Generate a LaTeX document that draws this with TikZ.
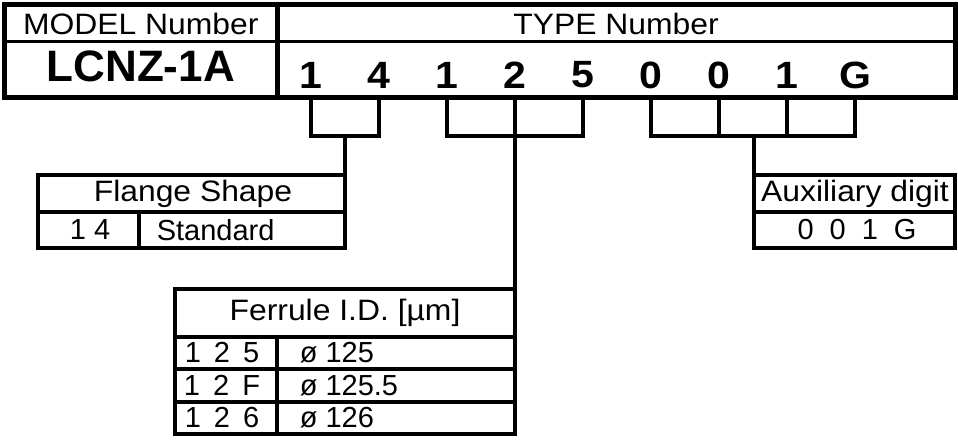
\documentclass[tikz,border=0pt]{standalone}
\usepackage{fontspec}
\setmainfont{Liberation Sans}
\newfontfamily\widefont[FakeStretch=1.08]{Liberation Sans}
\newcommand{\gp}{\hspace{0.45em}}
\begin{document}
\begin{tikzpicture}[x=1pt, y=-1pt, line width=3.5pt,
    lbl/.style={font=\widefont\fontsize{29.5}{29.5}\selectfont, inner sep=0pt},
    cell/.style={font=\fontsize{29}{29}\selectfont, inner sep=0pt},
    big/.style={font=\fontsize{44}{44}\selectfont\bfseries, inner sep=0pt},
    dig/.style={font=\widefont\fontsize{38}{38}\selectfont\bfseries, inner sep=0pt}]
    \useasboundingbox (0,0) rectangle (958,441);
    % header
    \draw[line width=5pt] (4.5,4.5) rectangle (955,97.5);
    \draw[line width=3pt] (4.5,42) -- (955,42);
    \draw[line width=5pt] (277,4.5) -- (277,100);
    \node[lbl] (model) at (140.75,23.5) {MODEL Number};
    \node[lbl] (type) at (616,23.5) {TYPE Number};
    \node[big] (lcnz) at (140.75,66) {LCNZ-1A};
    \foreach \d [count=\i from 0] in {1,4,1,2,5,0,0,1,G}
        \node[dig] (d\i) at (311+68*\i,75) {\d};
    \coordinate (top) at (0,97.5);
    \coordinate (bot) at (0,136);
    % brackets
    \draw (d0|-top) -- (d0|-bot) -- (d1|-bot) -- (d1|-top);
    \draw (d2|-top) -- (d2|-bot) -- (d4|-bot) -- (d4|-top);
    \draw (d3|-top) -- (d3|-bot);
    \draw (d5|-top) -- (d5|-bot) -- (d8|-bot) -- (d8|-top);
    \foreach \i in {6,7}
        \draw (d\i|-top) -- (d\i|-bot);
    % tables
    \coordinate (flange) at (345,175);
    \coordinate (ferrule) at (515,289);
    \coordinate (aux) at (754,175);
    \draw (flange|-bot) -- (flange);
    \draw (d3|-bot) -- (ferrule);
    \draw (aux|-bot) -- (aux);
    \draw (38,175) rectangle (flange|-0,248);           % flange shape
    \draw (38,212) -- (345,212);
    \draw (139,212) -- (139,248);
    \draw (aux) rectangle (955,248);                    % auxiliary
    \draw (754,212) -- (955,212);
    \draw (175,289) rectangle (515,434);                % ferrule
    \foreach \y in {337,369,402}
        \draw (175,\y) -- (515,\y);
    \draw (277,337) -- (277,434);
    \node[lbl] (flt) at (193,193.5) {Flange Shape};
    \node[cell] (fl1) at (90,230) {1 4};
    \node[cell, anchor=west] (fl2) at (155,230) {Standard};
    \node[lbl] (auxt) at (855,193.5) {Auxiliary digit};
    \node[cell] (aux1) at (857,230) {0\hspace{0.55em}0\hspace{0.55em}1\hspace{0.55em}G};
    \node[lbl] (fet) at (345,313) {Ferrule I.D. [µm]};
    \foreach \c/\v [count=\i] in {5/125, F/125.5, 6/126} {
        \node[cell] (fa\i) at (222,320.5+32.5*\i) {1\gp2\gp\c};
        \node[cell, anchor=west] (fb\i) at (298,320.5+32.5*\i) {ø \v};
    }
\end{tikzpicture}
\end{document}
